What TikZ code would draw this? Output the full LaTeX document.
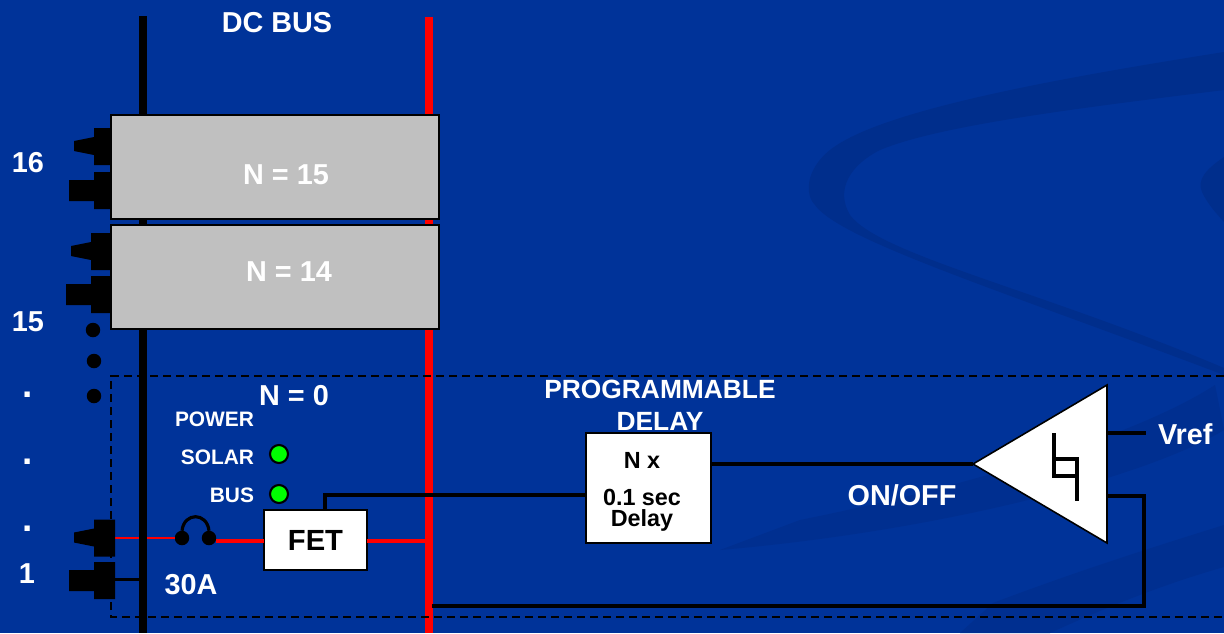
\documentclass[tikz,border=0pt]{standalone}
\usepackage{fontspec}
\setmainfont{Liberation Sans}
\usepackage{xcolor}
\usepackage{tikz}
\usetikzlibrary{positioning,calc}
\definecolor{BusBlue}{HTML}{003399}
\definecolor{BusSwirl}{HTML}{002E8C}
\definecolor{BusGray}{HTML}{C0C0C0}
\definecolor{BusGreen}{HTML}{00FF00}
\newcommand{\plugnose}[3]{\fill (#1,#2) -- ++(#3,0) -- ++(0,37) -- ++(-#3,0) -- ++(0,-10) -- ++(-20,-4) -- ++(0,-10) -- ++(20,-4) -- cycle;}
\newcommand{\plugblock}[3]{\fill (#1,#2) -- ++(#3,0) -- ++(0,37) -- ++(-#3,0) -- ++(0,-8) -- ++(-25,0) -- ++(0,-21) -- ++(25,0) -- cycle;}

\begin{document}
\begin{tikzpicture}[x=0.02cm,y=-0.02cm,
  lbl/.style={text=white,font=\bfseries\fontsize{16.4}{18}\selectfont,inner sep=0pt,outer sep=0pt},
  pl/.style={lbl,font=\bfseries\fontsize{15}{17}\selectfont},
  sm/.style={lbl,font=\bfseries\fontsize{11.9}{14}\selectfont,anchor=east},
  pt/.style={lbl,font=\bfseries\fontsize{21}{23}\selectfont,anchor=base},
  dt/.style={inner sep=0pt,outer sep=0pt,font=\bfseries\fontsize{13.3}{15}\selectfont},
  b/.style={draw=black,line width=1.2pt,inner sep=0pt,outer sep=0pt},
  nbox/.style={b,fill=BusGray,minimum width=6.56cm,minimum height=2.08cm},
  led/.style={circle,draw=black,line width=1.2pt,fill=BusGreen,minimum size=0.36cm,inner sep=0pt,outer sep=0pt},
  dotn/.style={circle,fill=black,minimum size=0.29cm,inner sep=0pt,outer sep=0pt},
  w/.style={black,line width=2.1pt},
  rw/.style={red,line width=1.9pt}]
\fill[BusBlue] (0,0) rectangle (1224,633);
\path[use as bounding box] (0,0) rectangle (1224,633);
% background swirl
\fill[BusSwirl] (1224,52) .. controls (1060,78) and (880,110) .. (830,150) .. controls (805,170) and (805,195) .. (815,205) .. controls (840,240) and (1000,290) .. (1224,375) -- (1224,368) .. controls (1040,290) and (880,255) .. (850,215) .. controls (835,190) and (850,165) .. (880,150) .. controls (940,125) and (1080,108) .. (1224,90) -- cycle;
\fill[BusSwirl] (1224,157) .. controls (1205,170) and (1197,180) .. (1202,192) .. controls (1208,205) and (1218,215) .. (1224,222) -- cycle;
\fill[BusSwirl!70!BusBlue] (800,520) .. controls (950,490) and (1130,440) .. (1215,385) -- (1224,430) .. controls (1150,475) and (950,530) .. (720,550) -- cycle;
\fill[BusSwirl!70!BusBlue] (993,603) .. controls (1080,570) and (1160,545) .. (1224,525) -- (1224,567) .. controls (1160,585) and (1100,610) .. (1050,633) -- (960,633) -- cycle;
% buses
\coordinate (blackT) at (143,16);
\coordinate (blackB) at (143,633);
\coordinate (redT) at (429,17);
\coordinate (redB) at (429,633);
\coordinate (plugA) at (115,538);
\coordinate (plugB) at (115,579.5);
\node[dotn] (fuseL) at (182,538) {};
\node[dotn] (fuseR) at (209,538) {};
\draw[red,line width=1.2pt] (plugA) -- (fuseL);
\draw[w] (plugB) -- (plugB -| blackB);
\draw[black,line width=4.6pt] (blackT) -- (blackB);
\draw[red,line width=4.6pt] (redT) -- (redB);
% boxes
\node[nbox] (box15) at (275,167) {};
\node[nbox,below=0.12cm of box15] (box14) {};
\node[lbl] (n15) at (286,175) {N = 15};
\node[lbl] (n14) at (289,272) {N = 14};
\node[lbl] (dcbus) at (277,23) {DC BUS};
% connectors on the left
\plugnose{94}{128}{17}
\plugblock{94}{172}{17}
\plugnose{91}{233}{20}
\plugblock{91}{276}{20}
\plugnose{94}{519.5}{21}
\plugblock{94}{562}{21}
\node[lbl] (c16) at (28,163) {16};
\node[lbl] (c15) at (28,322) {15};
\node[pt] (d1) at (28,397) {.};
\node[pt] (d2) at (28,464) {.};
\node[pt] (d3) at (28,531) {.};
\node[lbl] (c1) at (27,574) {1};
\node[dotn] (e1) at (93,330) {};
\node[dotn] (e2) at (94,361) {};
\node[dotn] (e3) at (94,396) {};
% N = 0 card
\coordinate (cardA) at (1224,376);
\coordinate (cardB) at (111,376);
\coordinate (cardC) at (111,617);
\coordinate (cardD) at (1224,617);
\draw[black,line width=0.8pt,dash pattern=on 4.6pt off 2.8pt] (cardA) -- (cardB) -- (cardC) -- (cardD);
\node[lbl] (n0) at (294,396) {N = 0};
\node[sm] (power) at (254,419) {POWER};
\node[sm] (solar) at (254,457) {SOLAR};
\node[sm] (bus) at (254,495) {BUS};
\node[led] (ledS) at (279,454) {};
\node[led] (ledB) at (279,494) {};
\node[lbl] (amp) at (191,585) {30A};
\draw[black,line width=1.8pt] (fuseL.north) .. controls (184,512) and (207,512) .. (fuseR.north);
\node[b,fill=white,minimum width=2.06cm,minimum height=1.2cm,font=\bfseries\fontsize{16.6}{19}\selectfont] (fet) at (315.5,540) {FET};
\draw[rw] (fuseR.east |- 0,541) -- (fet.west |- 0,541);
\draw[rw] (fet.east |- 0,541) -- (redB |- 0,541);
% delay
\node[pl] (prog) at (660,389) {PROGRAMMABLE};
\node[pl,below=0.28cm of prog] (dly) {DELAY};
\node[b,fill=white,minimum width=2.5cm,minimum height=2.2cm] (delay) at (648.5,488) {};
\node[dt] (nx) at (642,460) {N x};
\node[dt] (sec) at (642,497) {0.1 sec};
\node[dt] (dl) at (642,520) {Delay};
\draw[w] (fet.north -| 325,0) -- (325,495) -- (delay.west |- 0,495);
% comparator
\coordinate (apex) at (973,464);
\coordinate (triT) at (1107,385);
\coordinate (triB) at (1107,543);
\draw[black,line width=0.9pt,fill=white] (apex) -- (triT) -- (triB) -- cycle;
\draw[black,line width=1.9pt] (1054,433) -- (1054,476) -- (1077,476);
\draw[black,line width=1.9pt] (1054,459) -- (1077,459) -- (1077,501);
\draw[w] (delay.east |- apex) -- (apex);
\node[lbl] (onoff) at (902,495) {ON/OFF};
\coordinate (vrefA) at (1107,433);
\node[lbl,anchor=west] (vref) at (1158,434) {Vref};
\draw[w] (vrefA) -- (1146,433);
\coordinate (fbA) at (1107,496);
\coordinate (fbB) at (1144,496);
\coordinate (fbC) at (1144,606);
\coordinate (fbD) at (432,606);
\draw[w] (fbA) -- (fbB) -- (fbC) -- (fbD);
\end{tikzpicture}
\end{document}
